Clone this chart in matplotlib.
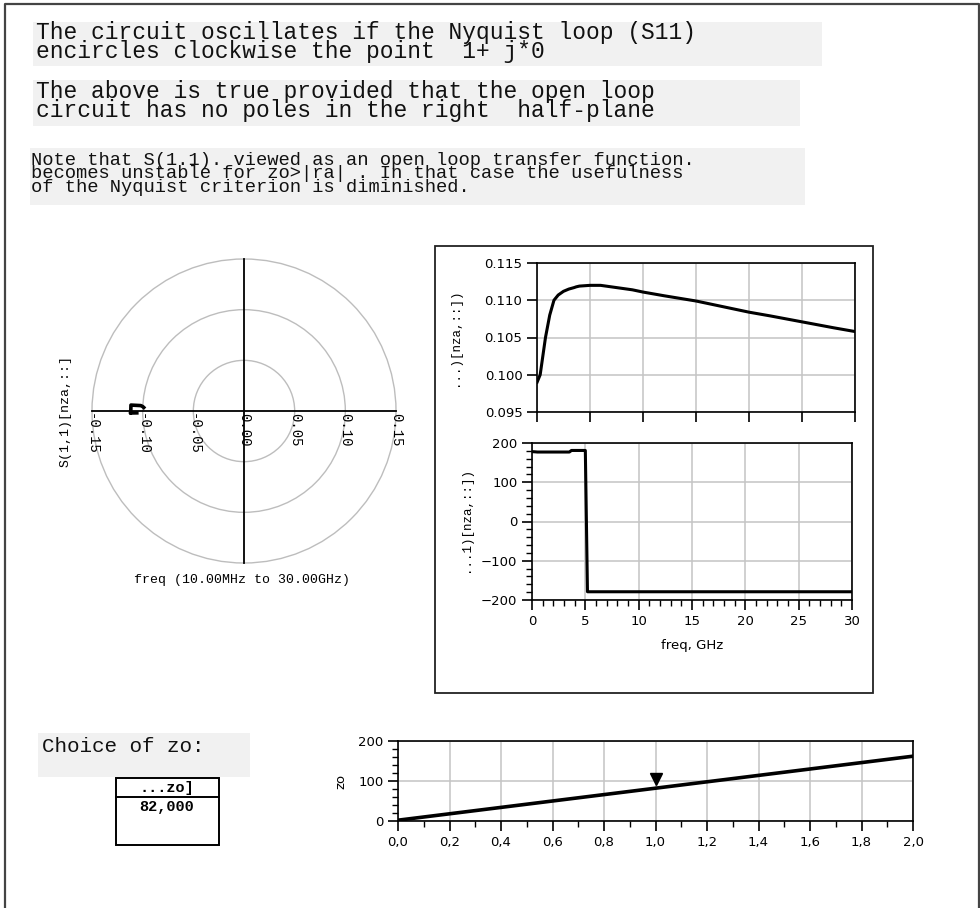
import numpy as np
import matplotlib
matplotlib.use("Agg")
import matplotlib.pyplot as plt
from matplotlib.patches import Rectangle, Circle
from matplotlib.ticker import MultipleLocator, FormatStrFormatter
import matplotlib.transforms as mtransforms

# --- data ---
freq_ghz = [0.01, 0.3, 0.5, 0.8, 1.2, 1.6, 2.0, 2.5, 3.0, 3.5, 3.7, 4.0, 5.0,
            5.2, 6.0, 7.0, 8.0, 9.0, 10.0, 12.0, 15.0, 18.0, 20.0, 22.0, 25.0,
            28.0, 30.0]
s11_mag = [0.0990, 0.1000, 0.1020, 0.1050, 0.1080, 0.1100, 0.1107, 0.1112,
           0.1115, 0.1117, 0.1118, 0.1119, 0.1120, 0.1120, 0.1120, 0.1118,
           0.1116, 0.1114, 0.1111, 0.1106, 0.1099, 0.1090, 0.1084, 0.1079,
           0.1071, 0.1063, 0.1058]
s11_phase = [178.0, 177.5, 177.0, 177.0, 177.0, 177.0, 177.0, 177.0, 177.0,
             177.0, 181.0, 181.0, 181.0, -179.0, -179.0, -179.0, -179.0,
             -179.0, -179.0, -179.0, -179.0, -179.0, -179.0, -179.0, -179.0,
             -179.0, -179.0]

sweep_x = [0.0, 0.2, 0.4, 0.6, 0.8, 1.0, 1.2, 1.4, 1.6, 1.8, 2.0]
zo_vals = [2, 18, 34, 50, 66, 82, 98, 114, 130, 146, 162]
zo_choice = 82.0
zo_choice_x = 1.0

polar_ticks = [-0.15, -0.10, -0.05, 0.00, 0.05, 0.10, 0.15]
polar_rings = [0.05, 0.10, 0.15]
zo_ticklabels = ["0,0", "0,2", "0,4", "0,6", "0,8", "1,0", "1,2", "1,4", "1,6", "1,8", "2,0"]

text_block1 = ["The circuit oscillates if the Nyquist loop (S11)",
               "encircles clockwise the point  1+ j*0"]
text_block2 = ["The above is true provided that the open loop",
               "circuit has no poles in the right  half-plane"]
text_block3 = ["Note that S(1.1). viewed as an open loop transfer function.",
               "becomes unstable for zo>|ra| . In that case the usefulness",
               "of the Nyquist criterion is diminished."]

W, H = 980, 908
MONO = "Liberation Mono"
GRID = "#c4c4c4"
TXT_BG = "#f1f1f1"

fig = plt.figure(figsize=(W / 100, H / 100), dpi=100)


def px_axes(x0, y0, x1, y1):
    # axes placed by pixel box (top-left origin)
    return fig.add_axes([x0 / W, 1 - y1 / H, (x1 - x0) / W, (y1 - y0) / H])


# page layer in pixel coordinates
page = fig.add_axes([0, 0, 1, 1])
page.set_xlim(0, W)
page.set_ylim(H, 0)
page.axis("off")

# outer frame (no bottom edge visible)
page.plot([5, 5, 979, 979], [H, 4, 4, H], color="#444444", lw=1.6)

# text notes with light background, one text per block
# (multi-line baseline alignment goes on the last line)
page.add_patch(Rectangle((33, 22), 789, 44, facecolor=TXT_BG, edgecolor="none"))
page.add_patch(Rectangle((33, 80), 767, 46, facecolor=TXT_BG, edgecolor="none"))
page.add_patch(Rectangle((30, 148), 775, 57, facecolor=TXT_BG, edgecolor="none"))
page.text(36, 58, "\n".join(text_block1), family=MONO, fontsize=16.5, va="baseline",
          linespacing=0.8, color="#111111")
page.text(36, 117, "\n".join(text_block2), family=MONO, fontsize=16.5, va="baseline",
          linespacing=0.8, color="#111111")
page.text(31, 192, "\n".join(text_block3), family=MONO, fontsize=13.5, va="baseline",
          linespacing=0.74, color="#111111")

# box around the rectangular plots
page.add_patch(Rectangle((435, 246), 438, 447, facecolor="none", edgecolor="#222222", lw=1.3))

# choice of zo
page.add_patch(Rectangle((38, 733), 212, 44, facecolor=TXT_BG, edgecolor="none"))
page.text(42, 752, "Choice of zo:", family=MONO, fontsize=15, va="baseline", color="#111111")
page.add_patch(Rectangle((116, 778), 103, 67, facecolor="none", edgecolor="black", lw=1.4))
page.plot([116, 219], [797, 797], color="black", lw=1.4)
page.text(167, 788, "...zo]", family=MONO, fontsize=11, weight="bold", ha="center", va="center")
page.text(167, 807, f"{zo_choice:.3f}".replace(".", ","), family=MONO, fontsize=11,
          weight="bold", ha="center", va="center")

# --- polar S11 plot (drawn on an equal-aspect cartesian axes) ---
axp = px_axes(92, 259, 396, 563)
rmax = 0.15
axp.set_xlim(-rmax, rmax)
axp.set_ylim(-rmax, rmax)
axp.set_aspect("equal")
axp.axis("off")
for r in polar_rings:
    axp.add_patch(Circle((0, 0), r, facecolor="none", edgecolor="#bdbdbd", lw=1.0, clip_on=False))
axp.plot([-rmax, rmax], [0, 0], color="black", lw=1.3, clip_on=False)
axp.plot([0, 0], [-rmax, rmax], color="black", lw=1.3, clip_on=False)
ph = np.deg2rad(np.array(s11_phase))
mag = np.array(s11_mag)
axp.plot(mag * np.cos(ph), mag * np.sin(ph), color="black", lw=2.6, clip_on=False)
for t in polar_ticks:
    axp.text(t, -0.002, f"{t:.2f}", rotation=-90, ha="center", va="top",
             fontsize=10, family=MONO)
page.text(66, 411, "S(1,1)[nza,::]", rotation=90, ha="center", va="center", fontsize=9.5, family=MONO)
page.text(242, 580, "freq (10.00MHz to 30.00GHz)", ha="center", va="center", fontsize=9.5, family=MONO)


def style_axes(ax):
    for s in ax.spines.values():
        s.set_linewidth(1.2)
        s.set_color("black")
    ax.grid(True, color=GRID, lw=1.1)
    ax.set_axisbelow(True)
    ax.tick_params(which="major", direction="out", length=7, width=1.2, labelsize=9.5)
    ax.tick_params(which="minor", direction="out", length=4, width=1.0)


# --- magnitude ---
axm = px_axes(537, 263, 855, 412)
axm.plot(freq_ghz, s11_mag, color="black", lw=2.2)
axm.set_xlim(0, 30)
axm.set_ylim(0.095, 0.115)
axm.xaxis.set_major_locator(MultipleLocator(5))
axm.yaxis.set_major_locator(MultipleLocator(0.005))
axm.yaxis.set_major_formatter(FormatStrFormatter("%.3f"))
axm.set_xticklabels([])
style_axes(axm)
page.text(455, 337, "...)[nza,::])", rotation=90, ha="center", va="center", fontsize=9, family=MONO)

# --- phase ---
axa = px_axes(532, 443, 852, 600)
axa.plot(freq_ghz, s11_phase, color="black", lw=2.2)
axa.set_xlim(0, 30)
axa.set_ylim(-200, 200)
axa.xaxis.set_major_locator(MultipleLocator(5))
axa.xaxis.set_minor_locator(MultipleLocator(1))
axa.yaxis.set_major_locator(MultipleLocator(100))
axa.yaxis.set_minor_locator(MultipleLocator(20))
style_axes(axa)
axa.set_xlabel("freq, GHz", fontsize=9.5, labelpad=8)
page.text(466, 520, "...1)[nza,::])", rotation=90, ha="center", va="center", fontsize=9, family=MONO)

# --- zo sweep ---
axz = px_axes(398, 741, 913, 821)
axz.plot(sweep_x, zo_vals, color="black", lw=2.6)
mark_tr = mtransforms.offset_copy(axz.transData, fig=fig, x=0, y=9, units="dots")
axz.plot([zo_choice_x], [zo_choice], marker="v", color="black", markersize=9,
         transform=mark_tr, clip_on=False)
axz.set_xlim(0, 2)
axz.set_ylim(0, 200)
axz.set_xticks(sweep_x)
axz.set_xticklabels(zo_ticklabels)
axz.xaxis.set_minor_locator(MultipleLocator(0.1))
axz.yaxis.set_major_locator(MultipleLocator(100))
axz.yaxis.set_minor_locator(MultipleLocator(20))
style_axes(axz)
axz.set_ylabel("zo", fontsize=9.5, labelpad=8)

fig.savefig("out.png", dpi=100)
